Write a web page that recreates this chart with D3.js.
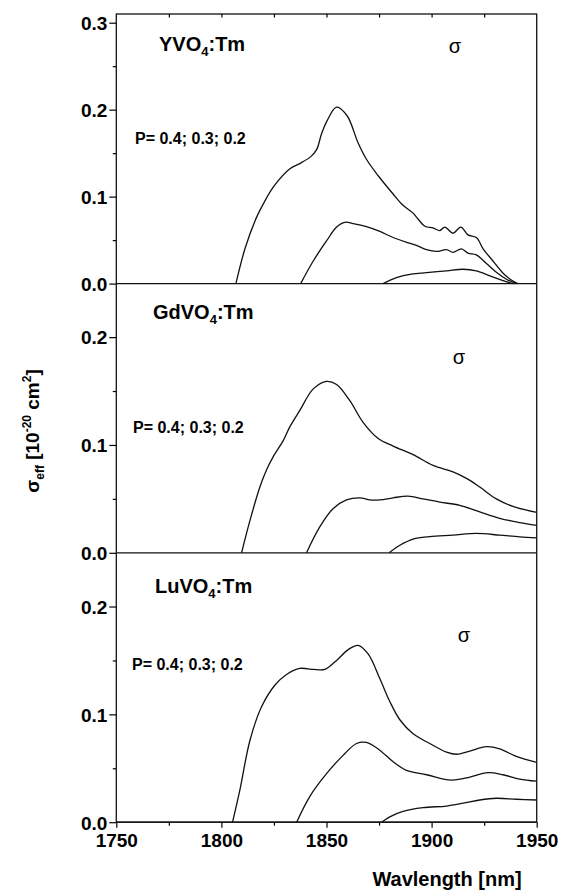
<!DOCTYPE html>
<html>
<head>
<meta charset="utf-8">
<title>sigma eff YVO4 GdVO4 LuVO4</title>
<script src="https://d3js.org/d3.v7.min.js"></script>
<style>
  body { margin: 0; background: #fff; }
  text { font-family: "Liberation Sans", Arial, sans-serif; fill: #000; }
</style>
</head>
<body>
<svg width="562" height="892"></svg>
<script>
    // data: [wavelength nm, sigma 10^-20 cm2]
    var yvoP04 = [[1806.9,0],[1811.2,0.040],[1816.5,0.075],[1820,0.092],[1825,0.112],[1832.6,0.132],[1837.3,0.138],
        [1842.5,0.146],[1845.3,0.154],[1847.6,0.172],[1850,0.186],[1854.8,0.203],[1859.8,0.193],[1865,0.162],
        [1869,0.143],[1874.6,0.124],[1881.7,0.103],[1886.4,0.090],[1891.2,0.081],[1893.6,0.074],[1896.8,0.066],
        [1900.7,0.064],[1903.9,0.061],[1906.3,0.065],[1910.2,0.058],[1913.9,0.065],[1917.3,0.056],[1921.3,0.053],
        [1924.5,0.040],[1929.2,0.026],[1934,0.012],[1938.7,0.003],[1941.1,0]];
    var yvoP03 = [[1837.7,0],[1843.7,0.026],[1850,0.049],[1854.8,0.065],[1858.7,0.0705],[1862.7,0.069],[1869,0.0655],
        [1875.4,0.060],[1881.7,0.053],[1888.1,0.0475],[1892.8,0.044],[1897.6,0.039],[1902.3,0.037],[1907.1,0.039],
        [1910.2,0.036],[1914.2,0.040],[1917.3,0.035],[1921.3,0.033],[1926.1,0.023],[1930.8,0.013],[1935.6,0.005],[1940.3,0]];
    var yvoP02 = [[1876.9,0],[1883.3,0.007],[1890.4,0.011],[1897.6,0.0126],[1907.1,0.0146],[1915,0.0165],
        [1921.3,0.0146],[1927.7,0.009],[1934,0.0034],[1938.7,0]];

    var gdvoP04 = [[1809.6,0],[1813.6,0.030],[1818.3,0.061],[1821.5,0.077],[1824.6,0.089],[1829.4,0.104],[1832.6,0.117],
        [1837.3,0.132],[1843.7,0.152],[1850,0.159],[1854.8,0.156],[1861.1,0.141],[1867.4,0.121],[1874.6,0.106],
        [1881.7,0.099],[1891.2,0.091],[1900.7,0.081],[1910.2,0.075],[1916.6,0.069],[1922.9,0.061],[1930.8,0.050],
        [1938.7,0.043],[1950,0.0375]];
    var gdvoP03 = [[1840.5,0],[1846.8,0.024],[1853.2,0.041],[1859.5,0.049],[1865.9,0.051],[1870.6,0.049],[1875.4,0.049],
        [1881.7,0.051],[1888.8,0.0525],[1895.9,0.050],[1903.9,0.047],[1913.4,0.044],[1922.9,0.038],[1932.4,0.032],
        [1941.9,0.028],[1950,0.0255]];
    var gdvoP02 = [[1879.8,0],[1884.9,0.007],[1891.2,0.0127],[1899.1,0.015],[1910.2,0.0164],[1921.3,0.018],
        [1932.4,0.0164],[1941.9,0.0148],[1950,0.0139]];

    var luvoP04 = [[1805.3,0],[1808.8,0.030],[1813.6,0.076],[1819.1,0.107],[1825.4,0.127],[1831,0.137],[1837.3,0.1426],
        [1843.7,0.1417],[1849.2,0.1417],[1854.8,0.150],[1860.3,0.160],[1865,0.164],[1869.8,0.156],[1875.2,0.134],
        [1880.1,0.112],[1884.9,0.095],[1891.2,0.082],[1899.1,0.073],[1907.1,0.065],[1911.8,0.063],[1918.2,0.066],
        [1926.1,0.070],[1932.4,0.068],[1940.3,0.061],[1950,0.0555]];
    var luvoP03 = [[1835.8,0],[1842.1,0.024],[1850,0.045],[1857.9,0.062],[1864.3,0.073],[1869,0.074],[1875.2,0.067],
        [1881.7,0.056],[1888.1,0.048],[1897.6,0.044],[1909.4,0.039],[1916.6,0.041],[1926.9,0.046],[1934,0.044],
        [1941.9,0.040],[1950,0.038]];
    var luvoP02 = [[1876.2,0],[1880.1,0.005],[1886.4,0.010],[1895.9,0.0135],[1907.1,0.015],[1915,0.0176],
        [1922.9,0.0206],[1930.8,0.0222],[1940.3,0.0213],[1950,0.0206]];

    var hosts = ["Y", "Gd", "Lu"];
    var yMax = [0.31, 0.25, 0.25];
    var yTicks = [[0, 0.1, 0.2, 0.3], [0, 0.1, 0.2], [0, 0.1, 0.2]];
    var xTicks = [1750, 1800, 1850, 1900, 1950];
    var xMinor = [1775, 1825, 1875, 1925];
    var pLabel = "P= 0.4; 0.3; 0.2";
    var series = [[yvoP04, yvoP03, yvoP02], [gdvoP04, gdvoP03, gdvoP02], [luvoP04, luvoP03, luvoP02]];

    var svg = d3.select("svg");
    svg.append("rect").attr("width", 562).attr("height", 892).attr("fill", "#fff");

    var left = 116.3, right = 536.7;
    var panelTop = [14, 283.2, 552.6];
    var panelH = 269.6;

    var x = d3.scaleLinear().domain([1750, 1950]).range([left, right]);

    // label placement per panel
    var nameX = [159, 153, 155], nameY = [50.5, 319, 593];
    var pX = [135, 133, 132], pY = [143.5, 433, 669.5];
    var sigX = [455, 459, 464], sigY = [53, 364, 641.5];

    series.forEach(function(s, i) {
        var y = d3.scaleLinear().domain([0, yMax[i]]).range([panelTop[i] + panelH, panelTop[i]]);
        var g = svg.append("g");

        var line = d3.line()
            .x(function(d) { return x(d[0]); })
            .y(function(d) { return y(d[1]); })
            .curve(d3.curveCatmullRom.alpha(0.5));

        s.forEach(function(d) {
            g.append("path")
                .datum(d)
                .attr("d", line)
                .attr("fill", "none")
                .attr("stroke", "#111")
                .attr("stroke-width", 1.3);
        });

        // left axis
        var minor = d3.range(0.05, yMax[i], 0.1);
        g.append("g")
            .attr("transform", "translate(" + left + ",0)")
            .call(d3.axisLeft(y).tickValues(minor).tickSize(3.5).tickFormat("").tickSizeOuter(0))
            .call(function(a) { a.select(".domain").remove(); a.selectAll("line").attr("stroke-width", 1.2); });
        var ax = g.append("g")
            .attr("transform", "translate(" + left + ",0)")
            .call(d3.axisLeft(y).tickValues(yTicks[i]).tickSize(7).tickPadding(2).tickFormat(d3.format(".1f")).tickSizeOuter(0));
        ax.select(".domain").remove();
        ax.selectAll("line").attr("stroke-width", 1.2);
        ax.selectAll("text")
            .style("font-size", "19px").style("font-weight", "bold")
            .attr("dy", "0.36em");

        // zero line / panel separator
        g.append("line")
            .attr("x1", left).attr("x2", right)
            .attr("y1", y(0)).attr("y2", y(0))
            .attr("stroke", "#111").attr("stroke-width", 1.3);

        // host label
        var t = g.append("text")
            .attr("x", nameX[i]).attr("y", nameY[i])
            .style("font-size", "20px").style("font-weight", "bold");
        t.append("tspan").text(hosts[i] + "VO");
        t.append("tspan").attr("dy", 5).style("font-size", "13px").text("4");
        t.append("tspan").attr("dy", -5).text(":Tm");

        g.append("text")
            .attr("x", pX[i]).attr("y", pY[i])
            .style("font-size", "16px").style("font-weight", "bold")
            .text(pLabel);

        g.append("text")
            .attr("x", sigX[i]).attr("y", sigY[i])
            .attr("text-anchor", "middle")
            .style("font-size", "20px")
            .text("σ");
    });

    // frame
    svg.append("rect")
        .attr("x", left).attr("y", panelTop[0])
        .attr("width", right - left).attr("height", panelTop[2] + panelH - panelTop[0])
        .attr("fill", "none").attr("stroke", "#111").attr("stroke-width", 1.3);

    // top ticks (inward) on the upper panel
    svg.append("g")
        .attr("transform", "translate(0," + panelTop[0] + ")")
        .call(d3.axisTop(x).tickValues(d3.range(1775, 1950, 25)).tickSize(-3.5).tickFormat("").tickSizeOuter(0))
        .call(function(a) { a.select(".domain").remove(); a.selectAll("line").attr("stroke-width", 1.2); });

    // bottom axis
    var bottom = panelTop[2] + panelH;
    svg.append("g")
        .attr("transform", "translate(0," + bottom + ")")
        .call(d3.axisBottom(x).tickValues(xMinor).tickSize(3.5).tickFormat("").tickSizeOuter(0))
        .call(function(a) { a.select(".domain").remove(); a.selectAll("line").attr("stroke-width", 1.2); });
    var bx = svg.append("g")
        .attr("transform", "translate(0," + bottom + ")")
        .call(d3.axisBottom(x).tickValues(xTicks).tickSize(5.5).tickPadding(6).tickFormat(d3.format("d")).tickSizeOuter(0));
    bx.select(".domain").remove();
    bx.selectAll("line").attr("stroke-width", 1.2);
    bx.selectAll("text").style("font-size", "19px").style("font-weight", "bold");

    // axis titles
    svg.append("text")
        .attr("x", 447).attr("y", 886)
        .attr("text-anchor", "middle")
        .style("font-size", "20px").style("font-weight", "bold")
        .text("Wavlength [nm]");

    var yt = svg.append("text")
        .attr("transform", "translate(39,431) rotate(-90)")
        .attr("text-anchor", "middle")
        .style("font-size", "19px").style("font-weight", "bold");
    yt.append("tspan").text("σ");
    yt.append("tspan").attr("dy", 5).style("font-size", "12px").text("eff");
    yt.append("tspan").attr("dy", -5).text(" [10");
    yt.append("tspan").attr("dy", -8).style("font-size", "12px").text("-20");
    yt.append("tspan").attr("dy", 8).text(" cm");
    yt.append("tspan").attr("dy", -8).style("font-size", "12px").text("2");
    yt.append("tspan").attr("dy", 8).text("]");
</script>
</body>
</html>
